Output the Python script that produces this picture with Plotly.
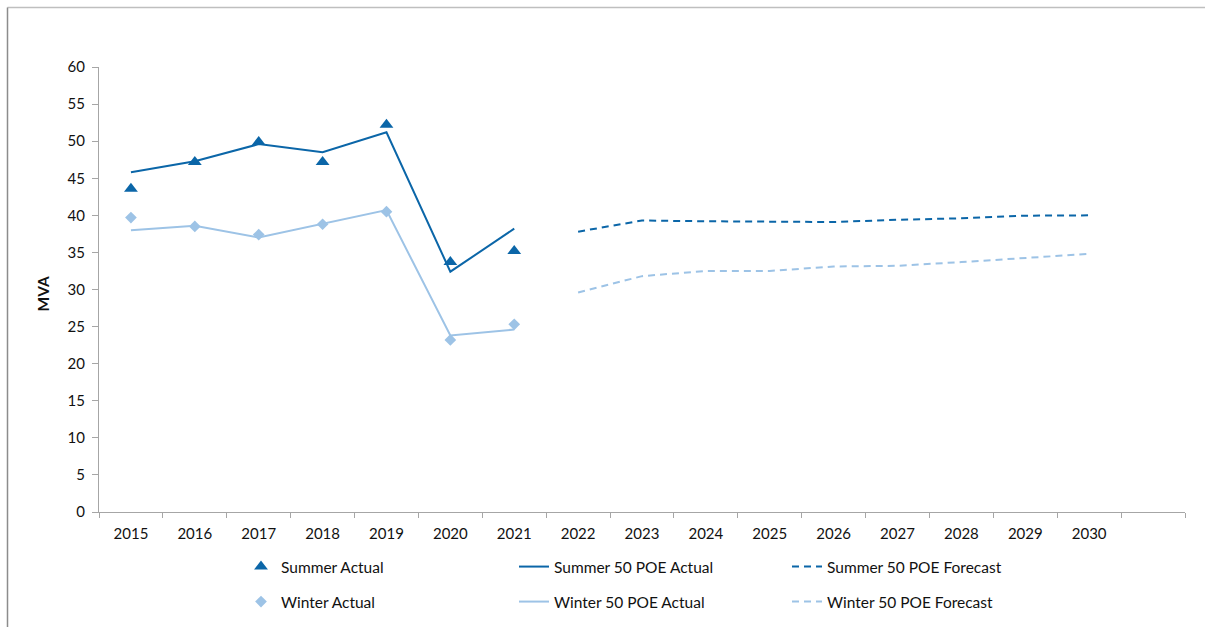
import plotly.graph_objects as go

years_actual = [2015, 2016, 2017, 2018, 2019, 2020, 2021]
years_forecast = [2022, 2023, 2024, 2025, 2026, 2027, 2028, 2029, 2030]
tick_years = list(range(2015, 2031))
tick_labels = [str(y) for y in tick_years]

summer_actual = [43.6, 47.2, 49.9, 47.2, 52.2, 33.7, 35.2]
summer_poe_actual = [45.8, 47.3, 49.6, 48.5, 51.2, 32.4, 38.2]
summer_poe_forecast = [37.8, 39.3, 39.2, 39.15, 39.1, 39.4, 39.6, 39.95, 40.0]

winter_actual = [39.7, 38.5, 37.4, 38.8, 40.5, 23.2, 25.3]
winter_poe_actual = [38.0, 38.6, 37.0, 38.8, 40.7, 23.8, 24.6]
winter_poe_forecast = [29.6, 31.8, 32.5, 32.5, 33.1, 33.2, 33.7, 34.2, 34.8]

SUMMER = "#0b66a8"
WINTER = "#9dc3e6"
AXIS = "#a6a6a6"
FONT = "Lato"
TXT = "#111111"
FS = 15.5

fig = go.Figure()
fig.add_trace(go.Scatter(x=years_actual, y=summer_actual, mode="markers", name="Summer Actual",
                         marker=dict(symbol="triangle-up", size=12, color=SUMMER), legend="legend"))
fig.add_trace(go.Scatter(x=years_actual, y=summer_poe_actual, mode="lines", name="Summer 50 POE Actual",
                         line=dict(color=SUMMER, width=2), legend="legend"))
fig.add_trace(go.Scatter(x=years_forecast, y=summer_poe_forecast, mode="lines", name="Summer 50 POE Forecast",
                         line=dict(color=SUMMER, width=2, dash="7px,5px"), legend="legend"))
fig.add_trace(go.Scatter(x=years_actual, y=winter_actual, mode="markers", name="Winter Actual",
                         marker=dict(symbol="diamond", size=9, color=WINTER), legend="legend2"))
fig.add_trace(go.Scatter(x=years_actual, y=winter_poe_actual, mode="lines", name="Winter 50 POE Actual",
                         line=dict(color=WINTER, width=2), legend="legend2"))
fig.add_trace(go.Scatter(x=years_forecast, y=winter_poe_forecast, mode="lines", name="Winter 50 POE Forecast",
                         line=dict(color=WINTER, width=2, dash="7px,5px"), legend="legend2"))

W, H = 1205, 627
L, R, T, B = 99, 1185, 67, 512

def cx(x):
    return x / W

def cy(y):
    return 1 - y / H

legend_common = dict(orientation="h", xanchor="left", yanchor="middle", entrywidth=228,
                     xref="container", yref="container",
                     font=dict(family=FONT, size=FS, color=TXT), bgcolor="rgba(0,0,0,0)",
                     traceorder="normal", itemwidth=30, tracegroupgap=0)

fig.update_layout(
    width=W, height=H,
    margin=dict(l=L, r=W - R, t=T, b=H - B, autoexpand=False),
    paper_bgcolor="white", plot_bgcolor="white",
    font=dict(family=FONT, size=FS, color=TXT),
    showlegend=True,
    legend=dict(x=cx(241), y=cy(567), **legend_common),
    legend2=dict(x=cx(241), y=cy(602), **legend_common),
    xaxis=dict(range=[2014.5, 2031.5], tickvals=tick_years, ticktext=tick_labels, ticks="",
               showline=True, linecolor=AXIS, linewidth=1, showgrid=False, zeroline=False,
               ticklabelstandoff=8, automargin=False,
               tickfont=dict(family=FONT, size=15, color=TXT),
               minor=dict(ticks="outside", tick0=2014.5, dtick=1, ticklen=5, tickcolor=AXIS, showgrid=False)),
    yaxis=dict(range=[0, 60], dtick=5, tick0=0, ticks="outside", ticklen=6, tickcolor=AXIS,
               showline=True, linecolor=AXIS, linewidth=1, showgrid=False, zeroline=False,
               ticklabelstandoff=4, automargin=False,
               tickfont=dict(family=FONT, size=15, color=TXT)),
    annotations=[dict(text="<b>MVA</b>", x=cx(42), y=cy(293.5), xref="paper", yref="paper",
                      showarrow=False, textangle=-90, font=dict(family=FONT, size=FS, color=TXT),
                      xanchor="center", yanchor="middle")],
    shapes=[
        dict(type="line", xref="paper", yref="paper", x0=0, x1=1, y0=1, y1=1,
             line=dict(color="#bfbfbf", width=1.5)),
    ],
)

# convert annotation & border positions from pixel to paper coords of the fixed plot area
pw, ph = R - L, B - T
def px(x):
    return (x - L) / pw
def py(y):
    return (B - y) / ph

fig.layout.annotations[0].x = px(42)
fig.layout.annotations[0].y = py(293.5)
fig.layout.shapes = [
    dict(type="line", xref="paper", yref="paper", x0=px(7.5), x1=px(1210), y0=py(7.5), y1=py(7.5),
         line=dict(color="#bfbfbf", width=1.5)),
    dict(type="line", xref="paper", yref="paper", x0=px(7.5), x1=px(7.5), y0=py(7.5), y1=py(640),
         line=dict(color="#8c8c8c", width=1.5)),
]

fig.write_html("out.html")
